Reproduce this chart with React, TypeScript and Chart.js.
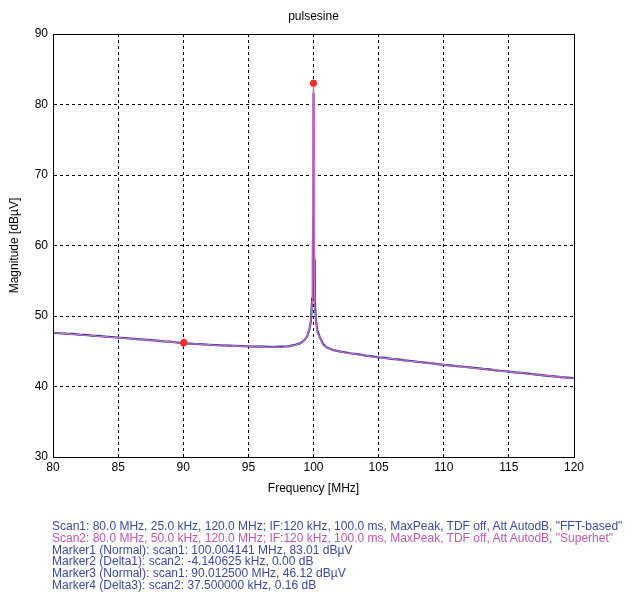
import React, { useEffect, useRef } from "react";
import { Chart, registerables } from "chart.js";

Chart.register(...registerables);

const chartTitle = "pulsesine";
const xTitle = "Frequency [MHz]";
const yTitle = "Magnitude [dBµV]";
const xTicks = [80, 85, 90, 95, 100, 105, 110, 115, 120];
const yTicks = [30, 40, 50, 60, 70, 80, 90];

const scan1Freq = [
  80.0, 80.5, 81.0, 81.5, 82.0, 82.5, 83.0, 83.5, 84.0, 84.5, 85.0, 85.5, 86.0, 86.5, 87.0, 87.5,
  88.0, 88.5, 89.0, 89.5, 90.0, 90.5, 91.0, 91.5, 92.0, 92.5, 93.0, 93.5, 94.0, 94.5, 95.0, 95.5,
  96.0, 96.5, 97.0, 97.5, 98.0, 98.5, 99.0, 99.3, 99.5, 99.7, 99.8, 99.9, 99.95, 99.97, 99.99,
  100.0, 100.01, 100.03, 100.05, 100.1, 100.2, 100.3, 100.5, 100.75, 101.0, 101.5, 102.0, 102.5,
  103.0, 103.5, 104.0, 104.5, 105.0, 105.5, 106.0, 106.5, 107.0, 107.5, 108.0, 108.5, 109.0, 109.5,
  110.0, 110.5, 111.0, 111.5, 112.0, 112.5, 113.0, 113.5, 114.0, 114.5, 115.0, 115.5, 116.0, 116.5,
  117.0, 117.5, 118.0, 118.5, 119.0, 119.5, 120.0,
];
const scan1Mag = [
  47.62, 47.55, 47.49, 47.47, 47.36, 47.31, 47.22, 47.18, 47.08, 47.02, 46.93, 46.88, 46.8, 46.71, 46.66, 46.58,
  46.52, 46.41, 46.36, 46.24, 46.12, 46.08, 46.03, 45.97, 45.92, 45.88, 45.84, 45.8, 45.78, 45.73, 45.7, 45.66,
  45.68, 45.61, 45.63, 45.66, 45.7, 45.86, 46.15, 46.55, 47.05, 48.2, 49.3, 52.5, 58.5, 62.8, 72.0,
  81.6, 70.0, 62.5, 58.0, 52.0, 49.2, 47.9, 46.9, 46.0, 45.55, 45.18, 44.98, 44.82,
  44.65, 44.55, 44.38, 44.28, 44.12, 44.05, 43.92, 43.85, 43.7, 43.62, 43.5, 43.4, 43.32, 43.18,
  43.08, 43.0, 42.88, 42.8, 42.7, 42.62, 42.5, 42.42, 42.3, 42.2, 42.12, 42.0, 41.92, 41.82,
  41.72, 41.62, 41.52, 41.44, 41.34, 41.26, 41.18,
];

const scan2Freq = [
  80.0, 80.5, 81.0, 81.5, 82.0, 82.5, 83.0, 83.5, 84.0, 84.5, 85.0, 85.5, 86.0, 86.5, 87.0, 87.5,
  88.0, 88.5, 89.0, 89.5, 90.0, 90.5, 91.0, 91.5, 92.0, 92.5, 93.0, 93.5, 94.0, 94.5, 95.0, 95.5,
  96.0, 96.5, 97.0, 97.5, 98.0, 98.5, 99.0, 99.3, 99.5, 99.7, 99.8, 99.9, 99.93, 99.96,
  100.0, 100.04, 100.07, 100.1, 100.2, 100.3, 100.5, 100.75, 101.0, 101.5, 102.0, 102.5,
  103.0, 103.5, 104.0, 104.5, 105.0, 105.5, 106.0, 106.5, 107.0, 107.5, 108.0, 108.5, 109.0, 109.5,
  110.0, 110.5, 111.0, 111.5, 112.0, 112.5, 113.0, 113.5, 114.0, 114.5, 115.0, 115.5, 116.0, 116.5,
  117.0, 117.5, 118.0, 118.5, 119.0, 119.5, 120.0,
];
const scan2Mag = [
  47.7, 47.48, 47.56, 47.36, 47.42, 47.2, 47.28, 47.06, 47.14, 46.92, 47.0, 46.78, 46.86, 46.62, 46.7, 46.5,
  46.56, 46.36, 46.4, 46.2, 46.14, 46.02, 46.06, 45.9, 45.96, 45.8, 45.9, 45.72, 45.8, 45.66, 45.74, 45.58,
  45.7, 45.52, 45.66, 45.5, 45.72, 45.82, 46.14, 46.5, 47.1, 48.2, 49.6, 52.0, 65.0, 80.0,
  83.0, 80.0, 65.0, 51.5, 49.0, 47.6, 46.9, 45.8, 45.58, 45.1, 45.02, 44.72,
  44.7, 44.46, 44.44, 44.18, 44.18, 43.96, 43.98, 43.74, 43.76, 43.52, 43.54, 43.3, 43.38, 43.1,
  43.14, 42.9, 42.94, 42.72, 42.76, 42.52, 42.56, 42.32, 42.38, 42.12, 42.18, 41.92, 41.98, 41.74,
  41.78, 41.54, 41.58, 41.36, 41.4, 41.18, 41.2,
];

const markerFreq = [100.004141, 99.999999, 90.0125, 90.05];
const markerMag = [83.01, 83.01, 46.12, 46.28];

const infoLines = [
  { text: 'Scan1: 80.0 MHz, 25.0 kHz, 120.0 MHz; IF:120 kHz, 100.0 ms, MaxPeak, TDF off, Att AutodB, "FFT-based"', color: "#3b4a9e" },
  { text: 'Scan2: 80.0 MHz, 50.0 kHz, 120.0 MHz; IF:120 kHz, 100.0 ms, MaxPeak, TDF off, Att AutodB, "Superhet"', color: "#c257ae" },
  { text: "Marker1 (Normal): scan1: 100.004141 MHz, 83.01 dBµV", color: "#3b4a9e" },
  { text: "Marker2 (Delta1): scan2: -4.140625 kHz, 0.00 dB", color: "#3b4a9e" },
  { text: "Marker3 (Normal): scan1: 90.012500 MHz, 46.12 dBµV", color: "#3b4a9e" },
  { text: "Marker4 (Delta3): scan2: 37.500000 kHz, 0.16 dB", color: "#3b4a9e" },
];

const FONT = "'Liberation Sans', Arial, sans-serif";
const W = 633;
const H = 595;
const AREA = { left: 53, top: 34, right: 574, bottom: 457 };

const toPoints = (xs: number[], ys: number[]) => xs.map((x, i) => ({ x, y: ys[i] }));

export default function App() {
  const ref = useRef<HTMLCanvasElement | null>(null);

  useEffect(() => {
    if (!ref.current) return;
    const frame = {
      id: "frameAndTitles",
      afterDraw(chart: any) {
        const { ctx, chartArea: a } = chart;
        ctx.save();
        ctx.strokeStyle = "#000";
        ctx.lineWidth = 1;
        ctx.setLineDash([]);
        ctx.strokeRect(Math.round(a.left) + 0.5, Math.round(a.top) + 0.5, Math.round(a.right - a.left), Math.round(a.bottom - a.top));
        ctx.fillStyle = "#000";
        ctx.font = `12px ${FONT}`;
        ctx.textAlign = "center";
        ctx.textBaseline = "middle";
        ctx.fillText(chartTitle, (a.left + a.right) / 2, 17);
        ctx.fillText(xTitle, (a.left + a.right) / 2, 489);
        ctx.translate(15, (a.top + a.bottom) / 2);
        ctx.rotate(-Math.PI / 2);
        ctx.fillText(yTitle, 0, 0);
        ctx.restore();
      },
    };
    const chart = new Chart(ref.current, {
      type: "scatter",
      data: {
        datasets: [
          {
            label: "markers",
            data: toPoints(markerFreq, markerMag),
            showLine: false,
            pointStyle: "star",
            pointRadius: 3.5,
            borderWidth: 2,
            borderColor: "#ff2a2a",
            backgroundColor: "#ff2a2a",
          },
          {
            label: "Scan2",
            data: toPoints(scan2Freq, scan2Mag),
            showLine: true,
            pointRadius: 0,
            borderWidth: 1.2,
            borderColor: "#cc6cc0",
          },
          {
            label: "Scan1",
            data: toPoints(scan1Freq, scan1Mag),
            showLine: true,
            pointRadius: 0,
            borderWidth: 2.2,
            borderColor: "#34409a",
          },
        ],
      },
      options: {
        responsive: false,
        animation: false,
        events: [],
        layout: { padding: { left: 0, top: AREA.top, right: W - AREA.right, bottom: H - AREA.bottom - 20 } },
        plugins: { legend: { display: false }, tooltip: { enabled: false }, title: { display: false } },
        scales: {
          x: {
            type: "linear",
            min: 80,
            max: 120,
            afterFit: (s: any) => { s.height = 20; },
            afterBuildTicks: (s: any) => { s.ticks = xTicks.map((v) => ({ value: v })); },
            ticks: { color: "#000", font: { family: FONT, size: 12 }, padding: 3 },
            grid: { color: "#000", lineWidth: 1, drawTicks: false },
            border: { display: true, color: "#000", dash: [3, 3] },
          },
          y: {
            type: "linear",
            min: 30,
            max: 90,
            afterFit: (s: any) => { s.width = AREA.left; },
            afterBuildTicks: (s: any) => { s.ticks = yTicks.map((v) => ({ value: v })); },
            ticks: { color: "#000", font: { family: FONT, size: 12 }, padding: 5 },
            grid: { color: "#000", lineWidth: 1, drawTicks: false },
            border: { display: true, color: "#000", dash: [3, 3] },
          },
        },
      },
      plugins: [frame],
    });
    return () => chart.destroy();
  }, []);

  return (
    <div style={{ position: "absolute", left: 0, top: 0, width: W, height: H, background: "#fff" }}>
      <canvas ref={ref} width={W} height={H} style={{ position: "absolute", left: 0, top: 0, width: W, height: H }} />
      <div style={{ position: "absolute", left: 52, top: 521, fontFamily: FONT, fontSize: 12, lineHeight: "11.8px", whiteSpace: "nowrap" }}>
        {infoLines.map((l, i) => (
          <div key={i} style={{ color: l.color }}>{l.text}</div>
        ))}
      </div>
    </div>
  );
}
